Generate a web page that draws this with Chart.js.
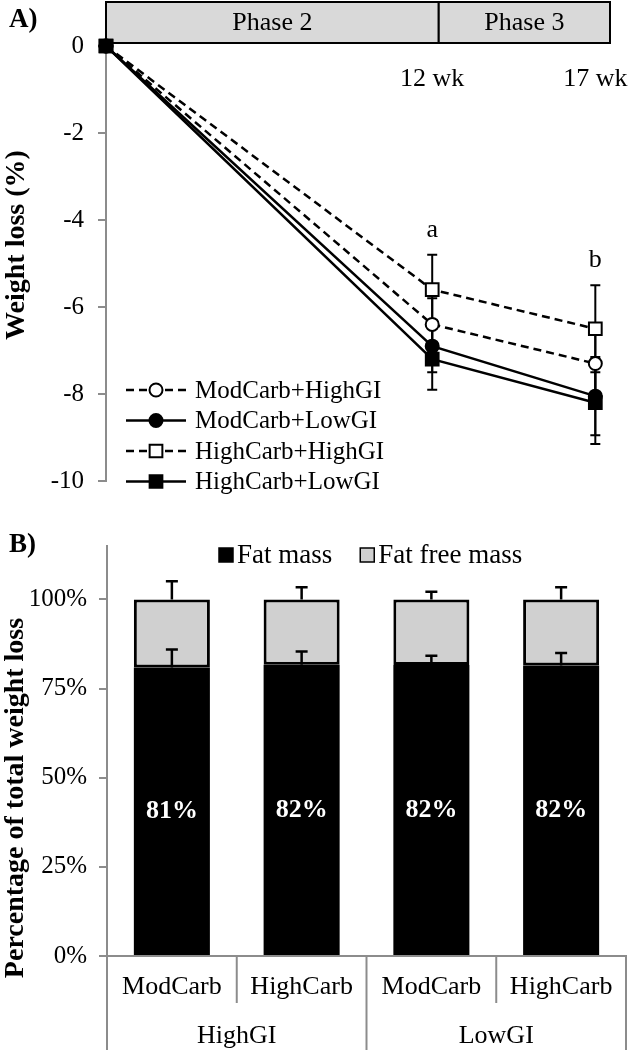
<!DOCTYPE html>
<html>
<head>
<meta charset="utf-8">
<script src="https://cdn.jsdelivr.net/npm/chart.js@4.4.1/dist/chart.umd.min.js"></script>
<style>
  body { margin: 0; background: #fff; }
  #wrap { position: relative; width: 629px; height: 1050px; }
  #boxA { position: absolute; left: 0; top: 0; width: 629px; height: 510px; }
  #boxB { position: absolute; left: 0; top: 510px; width: 629px; height: 540px; }
  .tag { position: absolute; font: bold 27px 'Liberation Serif', serif; color: #000; line-height: 1; }
</style>
</head>
<body>
<div id="wrap">
  <div id="boxA"><canvas id="chartA"></canvas></div>
  <div id="boxB"><canvas id="chartB"></canvas></div>
  <div class="tag" style="left:9px; top:5px;">A)</div>
  <div class="tag" style="left:9px; top:530px;">B)</div>
</div>
<script>
// ---- Panel A data ----
const weeks = [2, 12, 17];
const xTickWeeks = [12, 17];
const phaseNames = ['Phase 2', 'Phase 3'];
const phaseEdges = [2, 12.2, 17.45];
const yTicksA = [0, -2, -4, -6, -8, -10];
const seriesNames = ['ModCarb+HighGI', 'ModCarb+LowGI', 'HighCarb+HighGI', 'HighCarb+LowGI'];
const modHighGI = [0, -6.4, -7.3];
const modLowGI = [0, -6.9, -8.05];
const highHighGI = [0, -5.6, -6.5];
const highLowGI = [0, -7.2, -8.2];
const modHighGIErr = [0, 0.6, 0.7];
const modLowGIErr = [0, 0.6, 0.9];
const highHighGIErr = [0, 0.8, 1.0];
const highLowGIErr = [0, 0.7, 0.95];
const sigLetters = ['', 'a', 'b'];

// ---- Panel B data ----
const carbLevels = ['ModCarb', 'HighCarb', 'ModCarb', 'HighCarb'];
const giGroups = ['HighGI', 'LowGI'];
const fatMass = [80.9, 81.7, 81.6, 81.5];
const fatFreeMass = [19.1, 18.3, 18.4, 18.5];
const fatMassErr = [5.1, 3.7, 2.6, 3.5];
const totalErr = [5.1, 3.4, 2.2, 3.4];
const yTicksB = [0, 25, 50, 75, 100];

const serif = "'Liberation Serif', 'Times New Roman', serif";
const axisGray = '#8c8c8c';
Chart.defaults.font.family = serif;
Chart.defaults.color = '#000';

function pts(arr) {
    return weeks.map((w, i) => ({ x: w, y: arr[i] }));
}

// rotated bold axis title placed where the original has it
const sideTitle = {
    id: 'sideTitle',
    afterDraw(chart, args, opts) {
        const ctx = chart.ctx;
        ctx.save();
        ctx.translate(opts.x, opts.y);
        ctx.rotate(-Math.PI / 2);
        ctx.font = 'bold 28px ' + serif;
        ctx.fillStyle = '#000';
        ctx.textAlign = 'center';
        ctx.textBaseline = 'middle';
        ctx.fillText(opts.text, 0, 0);
        ctx.restore();
    }
};

// Phase boxes above the plot
const phaseBox = {
    id: 'phaseBox',
    beforeDatasetsDraw(chart) {
        const ctx = chart.ctx;
        const xs = chart.scales.x;
        const top = 2, bottom = chart.chartArea.top - 3;
        ctx.save();
        ctx.font = '26px ' + serif;
        ctx.textAlign = 'center';
        ctx.textBaseline = 'middle';
        for (let i = 0; i < phaseNames.length; i++) {
            const x0 = xs.getPixelForValue(phaseEdges[i]);
            const x1 = xs.getPixelForValue(phaseEdges[i + 1]);
            ctx.fillStyle = '#d9d9d9';
            ctx.fillRect(x0, top, x1 - x0, bottom - top);
            ctx.strokeStyle = '#000';
            ctx.lineWidth = 2;
            ctx.strokeRect(x0, top, x1 - x0, bottom - top);
            ctx.fillStyle = '#000';
            ctx.fillText(phaseNames[i], (x0 + x1) / 2, (top + bottom) / 2 + 1);
        }
        ctx.restore();
    }
};

// error bars (behind the markers) and significance letters
const errorBarsA = {
    id: 'errorBarsA',
    beforeDatasetsDraw(chart) {
        const ctx = chart.ctx;
        const ys = chart.scales.y;
        ctx.save();
        ctx.strokeStyle = '#000';
        ctx.lineWidth = 2;
        chart.data.datasets.forEach((ds, di) => {
            const meta = chart.getDatasetMeta(di);
            ds.errors.forEach((e, i) => {
                if (!e) return;
                const x = meta.data[i].x;
                const v = ds.data[i].y;
                const y0 = ys.getPixelForValue(v + e);
                const y1 = ys.getPixelForValue(v - e);
                ctx.beginPath();
                ctx.moveTo(x, y0); ctx.lineTo(x, y1);
                ctx.moveTo(x - 5, y0); ctx.lineTo(x + 5, y0);
                ctx.moveTo(x - 5, y1); ctx.lineTo(x + 5, y1);
                ctx.stroke();
            });
        });
        ctx.restore();
    },
    afterDatasetsDraw(chart) {
        const ctx = chart.ctx;
        const ys = chart.scales.y;
        ctx.save();
        ctx.font = '26px ' + serif;
        ctx.fillStyle = '#000';
        ctx.textAlign = 'center';
        ctx.textBaseline = 'middle';
        sigLetters.forEach((s, i) => {
            if (!s) return;
            let top = Infinity, x = 0;
            chart.data.datasets.forEach((ds, di) => {
                const p = chart.getDatasetMeta(di).data[i];
                x = p.x;
                top = Math.min(top, ys.getPixelForValue(ds.data[i].y + ds.errors[i]));
            });
            ctx.fillText(s, x, top - 25);
        });
        ctx.restore();
    }
};

// legend with line + marker samples, inside the plot
const legendA = {
    id: 'legendA',
    afterDatasetsDraw(chart, args, opts) {
        const ctx = chart.ctx;
        ctx.save();
        ctx.font = '25px ' + serif;
        ctx.textBaseline = 'middle';
        chart.data.datasets.forEach((ds, row) => {
            const y = opts.y + row * opts.gap;
            ctx.strokeStyle = '#000';
            ctx.lineWidth = ds.borderWidth;
            ctx.setLineDash(ds.borderDash || []);
            ctx.beginPath();
            ctx.moveTo(opts.x, y);
            ctx.lineTo(opts.x + 60, y);
            ctx.stroke();
            ctx.setLineDash([]);
            ctx.fillStyle = ds.pointBackgroundColor;
            ctx.lineWidth = ds.pointBorderWidth;
            Chart.helpers.drawPoint(ctx, {
                pointStyle: ds.pointStyle, radius: ds.pointRadius,
                borderWidth: ds.pointBorderWidth, rotation: 0
            }, opts.x + 30, y);
            ctx.fillStyle = '#000';
            ctx.fillText(ds.label, opts.x + 69, y + 1);
        });
        ctx.restore();
    }
};

function lineSet(label, arr, errs, dashed, style, filled, radius, order) {
    return {
        label: label,
        data: pts(arr),
        errors: errs,
        borderColor: '#000',
        borderWidth: 2.5,
        borderDash: dashed ? [8, 5] : [],
        pointStyle: style,
        pointRadius: radius,
        pointHoverRadius: radius,
        pointBackgroundColor: filled ? '#000' : '#fff',
        pointBorderColor: '#000',
        pointBorderWidth: 2,
        tension: 0,
        clip: false,
        order: order
    };
}

new Chart(document.getElementById('chartA'), {
    type: 'line',
    data: {
        datasets: [
            lineSet(seriesNames[0], modHighGI, modHighGIErr, true, 'circle', false, 6.5, 3),
            lineSet(seriesNames[1], modLowGI, modLowGIErr, false, 'circle', true, 6.5, 2),
            lineSet(seriesNames[2], highHighGI, highHighGIErr, true, 'rect', false, 9, 1),
            lineSet(seriesNames[3], highLowGI, highLowGIErr, false, 'rect', true, 9, 0)
        ]
    },
    options: {
        responsive: true,
        maintainAspectRatio: false,
        animation: false,
        events: [],
        layout: { padding: { top: 46, right: 19, bottom: 19, left: 0 } },
        plugins: {
            legend: { display: false },
            tooltip: { enabled: false },
            sideTitle: { text: 'Weight loss (%)', x: 17, y: 245 },
            legendA: { x: 126, y: 390, gap: 30.5 }
        },
        scales: {
            x: {
                type: 'linear',
                min: 2,
                max: 17.45,
                position: { y: 0 },
                afterBuildTicks: s => { s.ticks = xTickWeeks.map(v => ({ value: v })); },
                afterFit: s => { s.paddingLeft = 0; s.paddingRight = 0; },
                grid: { display: false, drawTicks: false },
                border: { display: false },
                ticks: {
                    padding: 18,
                    font: { size: 26 },
                    color: '#000',
                    maxRotation: 0,
                    autoSkip: false,
                    callback: v => v + ' wk'
                }
            },
            y: {
                min: -10,
                max: 0,
                afterBuildTicks: s => { s.ticks = yTicksA.map(v => ({ value: v })); },
                afterFit: s => { s.width = 106; },
                grid: { drawOnChartArea: false, tickLength: 8, color: axisGray, lineWidth: 2 },
                border: { color: axisGray, width: 2 },
                ticks: { padding: 14, font: { size: 25 }, color: '#000' }
            }
        }
    },
    plugins: [sideTitle, phaseBox, errorBarsA, legendA]
});

// ---- Panel B plugins ----
const errorBarsB = {
    id: 'errorBarsB',
    afterDatasetsDraw(chart) {
        const ctx = chart.ctx;
        const ys = chart.scales.y;
        const fm = chart.getDatasetMeta(0).data;
        const ffm = chart.getDatasetMeta(1).data;
        ctx.save();
        ctx.strokeStyle = '#000';
        ctx.lineWidth = 2.5;
        const bar = (x, yFrom, val) => {
            const y = ys.getPixelForValue(val);
            ctx.beginPath();
            ctx.moveTo(x, yFrom); ctx.lineTo(x, y);
            ctx.moveTo(x - 6, y); ctx.lineTo(x + 6, y);
            ctx.stroke();
        };
        fatMass.forEach((v, i) => {
            bar(fm[i].x, fm[i].y, v + fatMassErr[i]);
            bar(ffm[i].x, ffm[i].y, v + fatFreeMass[i] + totalErr[i]);
        });
        // value labels inside the fat mass bars
        ctx.font = 'bold 26px ' + serif;
        ctx.fillStyle = '#fff';
        ctx.textAlign = 'center';
        ctx.textBaseline = 'middle';
        fatMass.forEach((v, i) => {
            const c = fm[i].getCenterPoint();
            ctx.fillText(Math.round(v) + '%', c.x, c.y);
        });
        ctx.restore();
    }
};

const legendB = {
    id: 'legendB',
    afterDraw(chart, args, opts) {
        const ctx = chart.ctx;
        ctx.save();
        ctx.font = '27px ' + serif;
        ctx.textBaseline = 'middle';
        let x = opts.x;
        chart.data.datasets.forEach((ds) => {
            ctx.fillStyle = ds.backgroundColor;
            ctx.fillRect(x, opts.y - 7, 14, 14);
            ctx.strokeStyle = '#000';
            ctx.lineWidth = 1.5;
            ctx.strokeRect(x, opts.y - 7, 14, 14);
            ctx.fillStyle = '#000';
            ctx.fillText(ds.label, x + 18, opts.y + 1);
            x += 18 + ctx.measureText(ds.label).width + 28;
        });
        ctx.restore();
    }
};

// category separators for the two-level x axis
const groupLines = {
    id: 'groupLines',
    afterDraw(chart) {
        const ctx = chart.ctx;
        const xs = chart.scales.x;
        const area = chart.chartArea;
        const per = carbLevels.length / giGroups.length;
        ctx.save();
        ctx.strokeStyle = axisGray;
        ctx.lineWidth = 2;
        for (let i = 0; i <= carbLevels.length; i++) {
            let x;
            if (i === 0) x = area.left;
            else if (i === carbLevels.length) x = area.right;
            else x = (xs.getPixelForValue(i - 1) + xs.getPixelForValue(i)) / 2;
            const end = (i % per === 0) ? chart.height : chart.scales.x.bottom;
            ctx.beginPath();
            ctx.moveTo(x, area.bottom);
            ctx.lineTo(x, end);
            ctx.stroke();
        }
        ctx.restore();
    }
};

new Chart(document.getElementById('chartB'), {
    type: 'bar',
    data: {
        labels: carbLevels,
        datasets: [
            {
                label: 'Fat mass',
                data: fatMass,
                backgroundColor: '#000',
                borderColor: '#000',
                borderWidth: 0,
                barPercentage: 0.586,
                categoryPercentage: 1
            },
            {
                label: 'Fat free mass',
                data: fatFreeMass,
                backgroundColor: '#d0d0d0',
                borderColor: '#000',
                borderWidth: 3,
                borderSkipped: false,
                barPercentage: 0.586,
                categoryPercentage: 1
            }
        ]
    },
    options: {
        responsive: true,
        maintainAspectRatio: false,
        animation: false,
        events: [],
        layout: { padding: { top: 36, right: 3, bottom: 0, left: 0 } },
        plugins: {
            legend: { display: false },
            tooltip: { enabled: false },
            sideTitle: { text: 'Percentage of total weight loss', x: 16, y: 288 },
            legendB: { x: 219, y: 45 }
        },
        scales: {
            x: {
                stacked: true,
                afterFit: s => { s.height = 47; },
                grid: { display: false, drawTicks: false },
                border: { color: axisGray, width: 2 },
                ticks: { padding: 16, font: { size: 26 }, color: '#000', maxRotation: 0, autoSkip: false }
            },
            x2: {
                type: 'category',
                labels: giGroups,
                position: 'bottom',
                offset: true,
                afterFit: s => { s.height = 47; },
                grid: { display: false, drawTicks: false },
                border: { display: false },
                ticks: { padding: 18, font: { size: 26 }, color: '#000', maxRotation: 0 }
            },
            y: {
                stacked: true,
                min: 0,
                max: 115,
                afterBuildTicks: s => { s.ticks = yTicksB.map(v => ({ value: v })); },
                afterFit: s => { s.width = 107; },
                grid: { drawOnChartArea: false, tickLength: 8, color: axisGray, lineWidth: 2 },
                border: { color: axisGray, width: 2 },
                ticks: { padding: 12, font: { size: 25 }, color: '#000', callback: v => v + '%' }
            }
        }
    },
    plugins: [sideTitle, errorBarsB, legendB, groupLines]
});
</script>
</body>
</html>
